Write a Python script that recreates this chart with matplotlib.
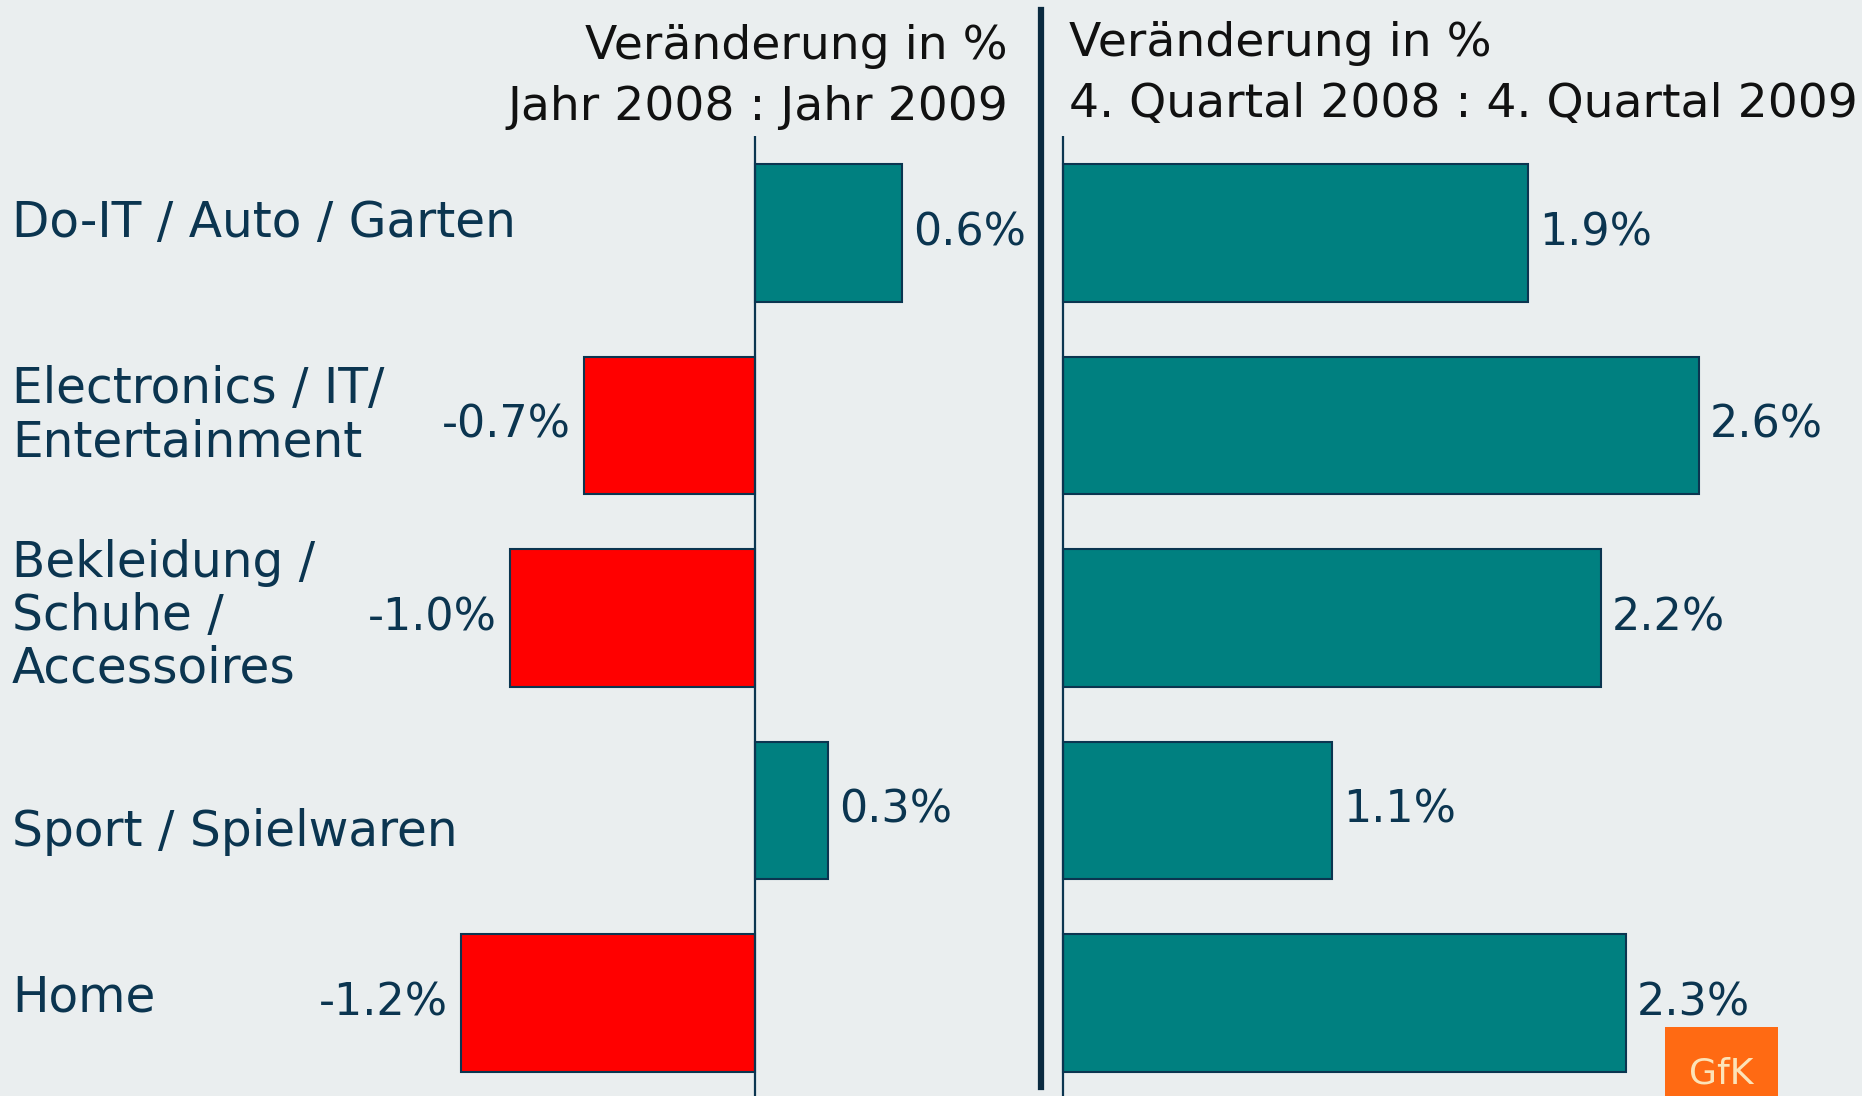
import matplotlib
matplotlib.use("Agg")
import matplotlib.pyplot as plt
from matplotlib.patches import Rectangle
from matplotlib.transforms import blended_transform_factory

# ---- data ----
categories = ["Do-IT / Auto / Garten",
              "Electronics / IT/\nEntertainment",
              "Bekleidung /\nSchuhe /\nAccessoires",
              "Sport / Spielwaren",
              "Home"]
year_change = [0.6, -0.7, -1.0, 0.3, -1.2]
q4_change = [1.9, 2.6, 2.2, 1.1, 2.3]
header_left = "Veränderung in %\nJahr 2008 : Jahr 2009"
header_right = "Veränderung in %\n4. Quartal 2008 : 4. Quartal 2009"

# ---- style ----
BG = "#EAEEEF"
TEAL = "#008080"
RED = "#FF0000"
EDGE = "#0B3550"
TXT = "#0B3550"
FONT = "DejaVu Sans"
FS_LAB = 35
FS_VAL = 32
FS_HEAD = 34

W, H = 1862, 1096
fig = plt.figure(figsize=(W / 100, H / 100), dpi=100, facecolor=BG)

ax_bottom = 0.0
ax_h = (H - 136) / H
axL = fig.add_axes([0 / W, ax_bottom, 1040 / W, ax_h])
axR = fig.add_axes([1045 / W, ax_bottom, 817 / W, ax_h])

scale = 244.6  # px per 1 %
axL.set_xlim(-755 / scale, (1040 - 755) / scale)
axR.set_xlim(-18 / scale, (1862 - 1063) / scale)

n = len(categories)
ypos = list(range(n))
for ax in (axL, axR):
    ax.set_ylim(4.484, -0.503)
    ax.set_facecolor("none")
    for s in ax.spines.values():
        s.set_visible(False)
    ax.set_xticks([])
    ax.set_yticks([])
    ax.axvline(0, color=EDGE, lw=1.6, zorder=3)

bar_h = 0.715
colsL = [TEAL if v >= 0 else RED for v in year_change]
axL.barh(ypos, year_change, height=bar_h, color=colsL, edgecolor=EDGE, linewidth=1.5, zorder=2)
axR.barh(ypos, q4_change, height=bar_h, color=TEAL, edgecolor=EDGE, linewidth=1.5, zorder=2)

gap = 11 / scale
for ax, vals in ((axL, year_change), (axR, q4_change)):
    for y, v in zip(ypos, vals):
        if v >= 0:
            ax.text(v + gap, y, f"{v:.1f}%", ha="left", va="center",
                    fontsize=FS_VAL, color=TXT, family=FONT)
        else:
            ax.text(v - gap * 1.2, y, f"{v:.1f}%", ha="right", va="center",
                    fontsize=FS_VAL, color=TXT, family=FONT)

# category labels
label_offsets = [-0.05, -0.05, -0.01, 0.11, -0.03]
tr = blended_transform_factory(axL.transAxes, axL.transData)
for y, lab, off in zip(ypos, categories, label_offsets):
    axL.text(12 / 1040, y + off, lab, transform=tr, ha="left", va="center",
             fontsize=FS_LAB, color=TXT, family=FONT, linespacing=1.13)

# headers
fig.text(1008 / W, 1 - 77 / H, header_left, ha="right", va="center",
         fontsize=FS_HEAD, color="#111111", family=FONT, linespacing=1.45)
fig.text(1069 / W, 1 - 74 / H, header_right, ha="left", va="center",
         fontsize=FS_HEAD, color="#111111", family=FONT, linespacing=1.45)

# divider
fig.add_artist(plt.Line2D([1041 / W, 1041 / W], [1 - 10 / H, 1 - 1087 / H],
                          color="#0A2A40", lw=4.5, transform=fig.transFigure))

# GfK logo
fig.add_artist(Rectangle((1665 / W, 0), 113 / W, 69 / H, transform=fig.transFigure,
                         facecolor="#FF6A13", edgecolor="none"))
fig.text(1721 / W, 12 / H, "GfK", ha="center", va="baseline", fontsize=26,
         color="#FCE3B8", family=FONT)

fig.savefig("out.png", dpi=100, facecolor=BG)
